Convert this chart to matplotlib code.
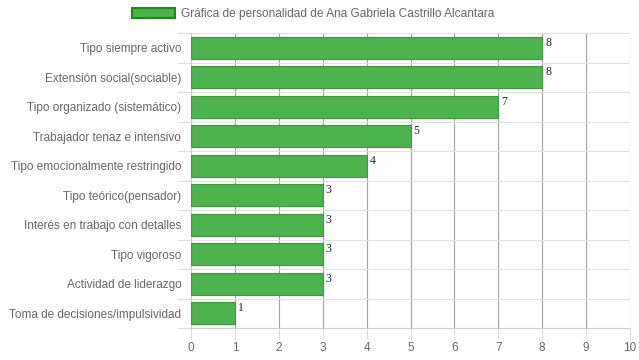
import matplotlib
matplotlib.use("Agg")
import matplotlib.pyplot as plt
from matplotlib.patches import Patch

categories = [
    "Tipo siempre activo",
    "Extensión social(sociable)",
    "Tipo organizado (sistemático)",
    "Trabajador tenaz e intensivo",
    "Tipo emocionalmente restringido",
    "Tipo teórico(pensador)",
    "Interés en trabajo con detalles",
    "Tipo vigoroso",
    "Actividad de liderazgo",
    "Toma de decisiones/impulsividad",
]
values = [8, 8, 7, 5, 4, 3, 3, 3, 3, 1]
series_label = "Gráfica de personalidad de Ana Gabriela Castrillo Alcantara"

FILL = "#4db34d"
EDGE = "#3a9a3a"

plt.rcParams["font.family"] = ["Liberation Sans", "DejaVu Sans"]

fig = plt.figure(figsize=(6.39, 3.6), dpi=100)
ax = fig.add_axes([191 / 639, 1 - 328 / 360, 439 / 639, 295 / 360])

ypos = list(range(len(categories)))
ax.barh(ypos, values, height=0.74, color=FILL, edgecolor=EDGE, linewidth=0.8, zorder=3)
for y, v in zip(ypos, values):
    ax.text(v + 0.07, y - 0.37, str(v), family="Liberation Serif", fontsize=8.5,
            ha="left", va="top", color="#222222", zorder=4)

ax.set_xlim(0, 10)
ax.set_ylim(len(categories) - 0.5, -0.5)
ax.set_xticks(range(11))
ax.set_yticks(ypos)
ax.set_yticklabels(categories)
ax.set_yticks([y + 0.5 for y in range(-1, len(categories))], minor=True)
ax.tick_params(axis="y", which="major", length=0, pad=7, labelsize=8.5, labelcolor="#666666")
ax.tick_params(axis="y", which="minor", length=10, color="#dddddd", width=0.8)
ax.tick_params(axis="x", length=8, color="#dddddd", width=0.8, labelsize=8.5,
               labelcolor="#666666", pad=2)
ax.grid(axis="x", color="#a0a0a0", linewidth=0.8, zorder=0)
ax.grid(axis="y", which="minor", color="#e2e2e2", linewidth=0.8, zorder=0)
for s in ["top", "right"]:
    ax.spines[s].set_visible(False)
ax.spines["left"].set_color("#cccccc")
ax.spines["bottom"].set_color("#cccccc")

handle = Patch(facecolor=FILL, edgecolor="#1e8a1e", linewidth=1.5)
fig.legend([handle], [series_label], loc="center", bbox_to_anchor=(0.4906, 1 - 14 / 360),
           frameon=False, fontsize=8.6, handlelength=3.6, handleheight=1.0,
           handletextpad=0.5, labelcolor="#666666")

fig.savefig("out.png", dpi=100)
